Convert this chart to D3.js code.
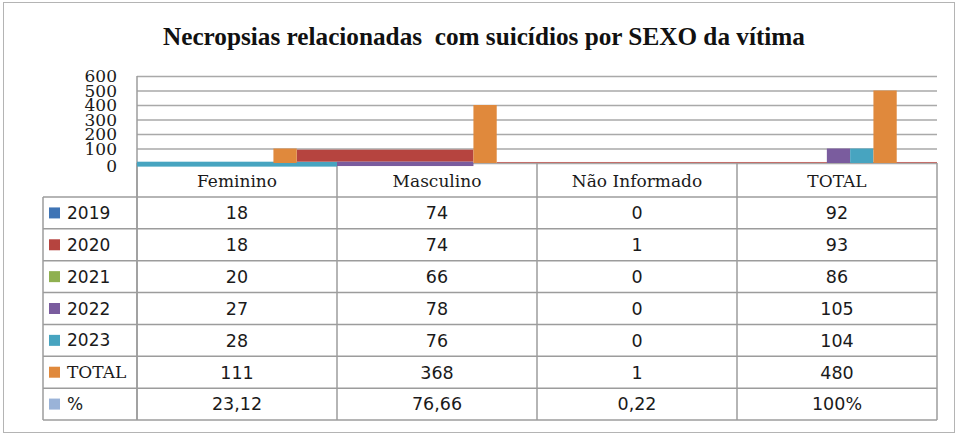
<!DOCTYPE html>
<html>
<head>
<meta charset="utf-8">
<script src="https://cdn.jsdelivr.net/npm/d3@7"></script>
<style>
  body { margin: 0; background: #fff; }
  svg { display: block; }
</style>
</head>
<body>
<div id="chart"></div>
<script>
const categories = ['Feminino', 'Masculino', 'Não Informado', 'TOTAL'];
const seriesNames = ['2019', '2020', '2021', '2022', '2023', 'TOTAL', '%'];
const seriesColors = ['#3f74b5', '#b6443f', '#8fb050', '#7a5c9e', '#47a4c0', '#e0893c', '#9ab3d8'];

// table values, one array per series
const values2019 = [18, 74, 0, 92];
const values2020 = [18, 74, 1, 93];
const values2021 = [20, 66, 0, 86];
const values2022 = [27, 78, 0, 105];
const values2023 = [28, 76, 0, 104];
const valuesTotal = [111, 368, 1, 480];
const percentLabels = ['23,12', '76,66', '0,22', '100%'];

// bars as they show up in the picture (read against the gridlines)
const barSeries = ['TOTAL', 'TOTAL', '2022', '2023', 'TOTAL'];
const barCategories = ['Feminino', 'Masculino', 'TOTAL', 'TOTAL', 'TOTAL'];
const barValues = [100, 400, 100, 100, 500];

// smeared bars: series, start (category, slot), end (category, slot), low / high value
const smearSeries = ['2023', '2020', '2022', '2020'];
const smearFrom = [['Feminino', null], ['Feminino', '%'], ['Masculino', null], ['Masculino', '%']];
const smearTo = [['Masculino', null], ['Masculino', 'TOTAL'], ['Masculino', 'TOTAL'], [null, null]];
const smearLow = [-25, 9, -21, 0];
const smearHigh = [9, 92, 9, 7];

const yTicks = [0, 100, 200, 300, 400, 500, 600];

const rows = [values2019, values2020, values2021, values2022, values2023, valuesTotal, percentLabels];
const color = d3.scaleOrdinal().domain(seriesNames).range(seriesColors);

const W = 960;
const H = 434;
const gridColor = '#a9a9a9';
const lineColor = '#9c9c9c';
const serif = "'DejaVu Serif', serif";
const sans = "'DejaVu Sans', sans-serif";

const svg = d3.select('#chart').append('svg')
  .attr('width', W)
  .attr('height', H);

svg.append('rect')
  .attr('x', 3.5)
  .attr('y', 2.5)
  .attr('width', 951)
  .attr('height', 430)
  .attr('fill', '#fff')
  .attr('stroke', '#b4b4b4');

svg.append('text')
  .attr('x', 484)
  .attr('y', 45)
  .attr('text-anchor', 'middle')
  .attr('textLength', 642)
  .attr('lengthAdjust', 'spacingAndGlyphs')
  .style('white-space', 'pre')
  .style('font-family', "'Liberation Serif', 'Times New Roman', serif")
  .style('font-weight', 'bold')
  .style('font-size', '25px')
  .style('fill', '#111')
  .text('Necropsias relacionadas  com suicídios por SEXO da vítima');

// Scales
const x0 = d3.scaleBand().domain(categories).range([137, 937]);
const x1 = d3.scaleBand().domain(seriesNames).range([20, 183]);
const y = d3.scaleLinear().domain([0, 600]).range([163, 76]);
const rowY = d3.scaleBand().domain(seriesNames).range([197, 420]);

const left = x0.range()[0];
const right = x0.range()[1];
const tableTop = y(0);
const tableBottom = rowY.range()[1];
const labelLeft = 43;

// Axis + gridlines
const yAxis = svg.append('g')
  .attr('transform', `translate(${left}, 0)`)
  .call(d3.axisLeft(y).tickValues(yTicks).tickSize(-(right - left)).tickPadding(20).tickFormat(d3.format('d')));

yAxis.select('.domain').remove();
yAxis.selectAll('line')
  .attr('stroke', gridColor)
  .attr('stroke-width', 1.4);
yAxis.selectAll('text')
  .attr('dy', d => d === 0 ? '0.5em' : '0.34em')
  .style('font-family', serif)
  .style('font-size', '17px')
  .style('fill', '#1a1a1a');

svg.append('line')
  .attr('x1', left).attr('x2', left)
  .attr('y1', y(600)).attr('y2', tableBottom)
  .attr('stroke', lineColor)
  .attr('stroke-width', 1.5);

// Table grid
const table = svg.append('g').attr('class', 'table');

table.selectAll('.h-line')
  .data(seriesNames.map(s => rowY(s)).concat([tableBottom]))
  .enter().append('line')
  .attr('class', 'h-line')
  .attr('x1', labelLeft).attr('x2', right)
  .attr('y1', d => d).attr('y2', d => d)
  .attr('stroke', lineColor)
  .attr('stroke-width', 1.5);

table.selectAll('.v-line')
  .data(categories.map(c => x0(c)).concat([right]))
  .enter().append('line')
  .attr('class', 'v-line')
  .attr('x1', d => d).attr('x2', d => d)
  .attr('y1', tableTop).attr('y2', tableBottom)
  .attr('stroke', lineColor)
  .attr('stroke-width', 1.5);

table.append('line')
  .attr('x1', labelLeft).attr('x2', labelLeft)
  .attr('y1', rowY.range()[0]).attr('y2', tableBottom)
  .attr('stroke', lineColor)
  .attr('stroke-width', 1.5);

table.selectAll('.header')
  .data(categories)
  .enter().append('text')
  .attr('class', 'header')
  .attr('x', d => x0(d) + x0.bandwidth() / 2)
  .attr('y', (tableTop + rowY.range()[0]) / 2 + 1)
  .attr('dy', '0.35em')
  .attr('text-anchor', 'middle')
  .style('font-family', serif)
  .style('font-size', '17px')
  .style('fill', '#1a1a1a')
  .text(d => d);

const rowG = table.selectAll('.row')
  .data(seriesNames)
  .enter().append('g')
  .attr('class', 'row')
  .attr('transform', d => `translate(0, ${rowY(d) + rowY.bandwidth() / 2})`);

rowG.append('rect')
  .attr('x', 49)
  .attr('y', -5.5)
  .attr('width', 11)
  .attr('height', 11)
  .attr('fill', d => color(d));

rowG.append('text')
  .attr('x', 67)
  .attr('dy', '0.36em')
  .style('font-family', d => d === 'TOTAL' ? serif : sans)
  .style('font-size', '17px')
  .style('fill', '#1a1a1a')
  .text(d => d);

rowG.selectAll('.cell')
  .data((d, i) => rows[i].map((v, j) => ({ cat: categories[j], value: v })))
  .enter().append('text')
  .attr('class', 'cell')
  .attr('x', d => x0(d.cat) + x0.bandwidth() / 2)
  .attr('dy', '0.36em')
  .attr('text-anchor', 'middle')
  .style('font-family', sans)
  .style('font-size', '17.5px')
  .style('fill', '#1a1a1a')
  .text(d => d.value);

// Bars
const edge = (cat, slot) => cat == null ? right : x0(cat) + (slot ? x1(slot) : 0);

svg.append('g').attr('class', 'smears')
  .selectAll('rect')
  .data(smearSeries.map((s, i) => ({ s, from: smearFrom[i], to: smearTo[i], lo: smearLow[i], hi: smearHigh[i] })))
  .enter().append('rect')
  .attr('x', d => edge(...d.from))
  .attr('width', d => edge(...d.to) - edge(...d.from))
  .attr('y', d => y(d.hi))
  .attr('height', d => y(d.lo) - y(d.hi))
  .attr('fill', d => color(d.s))
  .attr('opacity', d => d.hi - d.lo < 10 ? 0.75 : 1);

svg.append('g').attr('class', 'bars')
  .selectAll('rect')
  .data(barSeries.map((s, i) => ({ s, cat: barCategories[i], value: barValues[i] })))
  .enter().append('rect')
  .attr('x', d => x0(d.cat) + x1(d.s))
  .attr('width', x1.bandwidth())
  .attr('y', d => y(d.value))
  .attr('height', d => y(0) - y(d.value))
  .attr('fill', d => color(d.s));
</script>
</body>
</html>
